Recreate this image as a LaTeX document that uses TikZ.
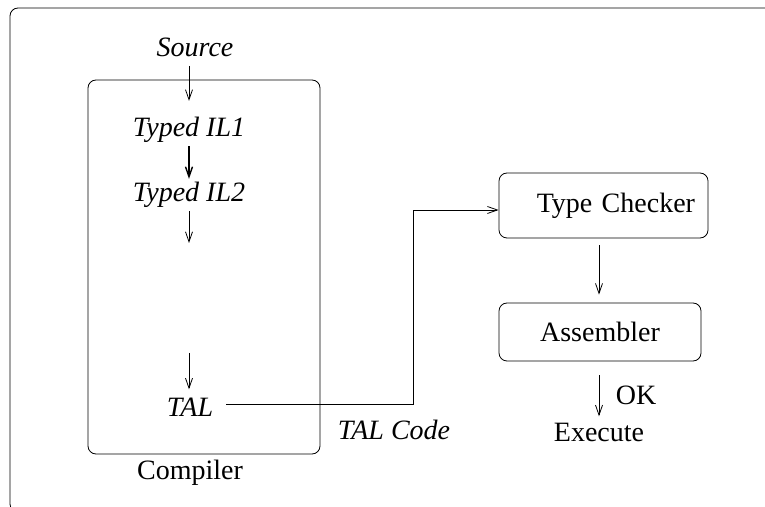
\documentclass[tikz,border=0pt]{standalone}
\usepackage{fontspec}
\setmainfont{Liberation Serif}
\usetikzlibrary{arrows.meta}
\tikzset{
  rbox/.style={draw,rounded corners=4pt,inner sep=3pt},
  lbl/.style={inner sep=0pt},
  flow/.style={-{Straight Barb[length=5pt,width=3.5pt]}},
}
\begin{document}
\begin{tikzpicture}[x=0.5pt,y=-0.5pt,every node/.style={font=\fontsize{14}{17}\selectfont}]
\useasboundingbox (0,0) rectangle (765,507);
\begin{scope}
\clip (0,0) rectangle (765,507);
\draw[rounded corners=4pt](10,8) rectangle (780,512);
\end{scope}
% compiler
\node[rbox,minimum width=116pt,minimum height=187pt] (cbox) at (204,267) {};
\node[lbl] (comp) at (190,473) {Compiler};
\node[lbl] (src) at (195,47) {\textit{Source}};
\node[lbl] (il1) at (189,130) {\textit{Typed IL1}};
\node[lbl] (il2) at (189,195) {\textit{Typed IL2}};
\node[lbl] (tal) at (190,407) {\textit{TAL}};
\coordinate (gapa) at (189,243);
\coordinate (gapb) at (189,353);
\draw[flow,shorten <=4.5pt,shorten >=8pt](src.south-|il1)--(il1);
\draw[flow,line width=0.7pt,shorten <=1.5pt,shorten >=1.5pt](il1)--(il2);
\draw[flow,shorten <=1.5pt](il2.south)--(gapa);
\draw[flow,shorten >=4pt](gapb)--(tal.north-|gapb);
% checker
\node[rbox,minimum width=104.5pt,minimum height=32.5pt,inner xsep=6.5pt,
  text width=91.5pt,align=right] (tc) at (603.5,205.5) {Type Checker};
\node[rbox,minimum width=101pt,minimum height=29pt] (asm) at (600,332) {Assembler};
\node[lbl] (exe) at (599,432) {Execute};
\node[lbl] (ok) at (636,395) {OK};
\node[lbl] (code) at (394,430) {\textit{TAL Code}};
\coordinate (bend) at (413,404);
\draw[flow,shorten <=6.5pt](tal.east|-bend)--(bend)|-([yshift=-2.25pt]tc.west);
\draw[flow,shorten <=3.5pt,shorten >=4pt](tc.south-|exe)--(asm.north-|exe);
\draw[flow,shorten <=7pt,shorten >=3pt](asm.south-|exe)--(exe);
\end{tikzpicture}
\end{document}
